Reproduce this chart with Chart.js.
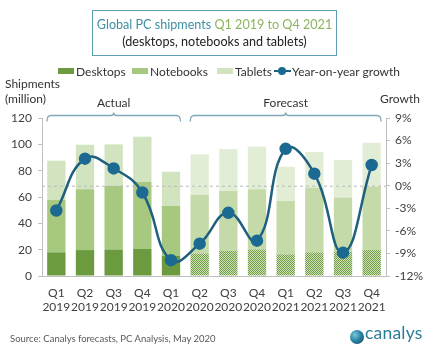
<!DOCTYPE html>
<html>
<head>
<meta charset="utf-8">
<script src="https://cdn.jsdelivr.net/npm/chart.js@4.4.1/dist/chart.umd.min.js"></script>
<style>
  html, body { margin:0; padding:0; background:#fff; }
  #wrap { position:relative; width:438px; height:355px; font-family: Lato, "Open Sans", sans-serif; color:#333; }
  canvas { position:absolute; left:0; top:0; }
  .abs { position:absolute; white-space:nowrap; }
  #titlebox { left:92px; top:10px; width:245px; border:1px solid #5aa1b5; text-align:center; font-size:12.6px; line-height:17px; padding-top:5px; box-sizing:border-box; height:46px; }
  .t1 { color:#3d8fa3; }
  .t2 { color:#8db35e; }
  .leg { font-size:12px; color:#333; top:64px; }
  .key { position:absolute; width:16px; height:6px; top:68px; }
  .axt { font-size:12px; color:#333; }
  #source { left:10px; top:333px; font-size:9.5px; color:#595959; }
  #logo { left:365px; top:322px; font-size:17.5px; color:#2a7d99; letter-spacing:0.2px; }
  #globe { position:absolute; left:350px; top:330px; width:14px; height:14px; border-radius:50%;
           background: radial-gradient(circle at 35% 35%, #7cc7d8 0%, #2a86a8 45%, #1d5e7e 75%, #4f9a3c 100%); }
</style>
</head>
<body>
<div id="wrap">
  <canvas id="c" width="438" height="355"></canvas>
  <div id="titlebox" class="abs"><span class="t1">Global PC shipments </span><span class="t2">Q1 2019 to Q4 2021</span><br><span style="color:#222">(desktops, notebooks and tablets)</span></div>

  <div class="key" style="left:58px;background:#6b9b3e"></div><div class="abs leg" style="left:76px">Desktops</div>
  <div class="key" style="left:132px;background:#a7c97f"></div><div class="abs leg" style="left:150px">Notebooks</div>
  <div class="key" style="left:217px;background:#d2e4bf"></div><div class="abs leg" style="left:235px">Tablets</div>
  <div class="abs" style="left:274px;top:70px;width:17px;height:2px;background:#1f5f7f"></div>
  <div class="abs" style="left:278px;top:67px;width:8px;height:8px;border-radius:50%;background:#1c6a91"></div>
  <div class="abs leg" style="left:292px">Year-on-year growth</div>

  <div class="abs axt" style="left:5px;top:76px">Shipments</div>
  <div class="abs axt" style="left:5px;top:91px">(million)</div>
  <div class="abs axt" style="left:380px;top:91px">Growth</div>

  <div id="source" class="abs">Source: Canalys forecasts, PC Analysis, May 2020</div>
  <div id="globe"></div>
  <div id="logo" class="abs">canalys</div>
</div>
<script>
// ---- data ----
const categories = [["Q1","2019"],["Q2","2019"],["Q3","2019"],["Q4","2019"],["Q1","2020"],["Q2","2020"],["Q3","2020"],["Q4","2020"],["Q1","2021"],["Q2","2021"],["Q3","2021"],["Q4","2021"]];
const desktops  = [18.0, 19.7, 20.0, 20.5, 15.4, 17.2, 19.2, 20.2, 16.5, 18.0, 18.5, 19.7];
const notebooks = [39.7, 46.1, 48.3, 51.1, 37.8, 44.3, 45.6, 45.6, 40.5, 49.0, 41.2, 48.1];
const tablets   = [29.9, 33.9, 31.7, 34.2, 26.0, 30.9, 31.6, 32.4, 26.0, 27.2, 28.4, 33.4];
const growth    = [-3.3, 3.6, 2.3, -0.9, -9.9, -7.7, -3.6, -7.3, 4.9, 1.6, -8.9, 2.75];
const forecastFlags = [false,false,false,false,false,true,true,true,true,true,true,true];
const periodLabels = ["Actual", "Forecast"];
const leftTicks = {min:0, max:120, step:20};
const rightTicks = {min:-12, max:9, step:3};

// ---- styles ----
const pc = document.createElement('canvas'); pc.width = 2; pc.height = 2;
const px = pc.getContext('2d');
px.fillStyle = '#cfe2b8'; px.fillRect(0,0,2,2);
px.fillStyle = '#6f9c45'; px.fillRect(0,0,1,1); px.fillRect(1,1,1,1);
const ctx0 = document.getElementById('c').getContext('2d');
const dotPattern = ctx0.createPattern(pc, 'repeat');

const deskColors = forecastFlags.map(f => f ? dotPattern : '#6b9b3e');
const noteColors = forecastFlags.map(f => f ? '#c4daa8' : '#a7c97f');
const tabColors  = forecastFlags.map(f => f ? '#e2edd5' : '#d2e4bf');

const FONT = 'Lato, "Open Sans", sans-serif';
const TXT = '#404040';

const overlay = {
  id: 'overlay',
  afterDatasetDraw(chart, args) {
    if (args.index !== 0) return;
    const y = chart.scales.y2.getPixelForValue(0);
    const ca = chart.chartArea;
    const c = chart.ctx;
    c.save();
    c.strokeStyle = '#b8b8b8'; c.lineWidth = 1; c.setLineDash([3,3]);
    c.beginPath(); c.moveTo(ca.left, y + 0.5); c.lineTo(ca.right, y + 0.5); c.stroke();
    c.restore();
  },
  afterDraw(chart) {
    const c = chart.ctx, xs = chart.scales.x;
    const half = xs.width / categories.length * 0.33;
    const firstF = forecastFlags.indexOf(true);
    const groups = [[0, firstF - 1], [firstF, categories.length - 1]];
    c.save();
    c.strokeStyle = '#7fa9b8'; c.lineWidth = 1.3;
    groups.forEach((g, i) => {
      const x0 = xs.getPixelForValue(g[0]) - half;
      const x1 = xs.getPixelForValue(g[1]) + half;
      const xm = (x0 + x1) / 2;
      const yb = 115.5, r = 4;
      c.beginPath();
      c.moveTo(x0, yb + 6);
      c.quadraticCurveTo(x0, yb, x0 + r, yb);
      c.lineTo(xm - 3, yb);
      c.quadraticCurveTo(xm, yb, xm, yb - 3);
      c.quadraticCurveTo(xm, yb, xm + 3, yb);
      c.lineTo(x1 - r, yb);
      c.quadraticCurveTo(x1, yb, x1, yb + 6);
      c.stroke();
      c.fillStyle = '#333'; c.font = '12px ' + FONT; c.textAlign = 'center'; c.textBaseline = 'middle';
      c.fillText(periodLabels[i], xm, 103);
    });
    c.restore();
  }
};

new Chart(ctx0, {
  data: {
    labels: categories,
    datasets: [
      { type:'bar', label:'Desktops', data: desktops, backgroundColor: deskColors, stack:'s', yAxisID:'y', order:1, categoryPercentage:1, barPercentage:0.64 },
      { type:'bar', label:'Notebooks', data: notebooks, backgroundColor: noteColors, stack:'s', yAxisID:'y', order:1, categoryPercentage:1, barPercentage:0.64 },
      { type:'bar', label:'Tablets', data: tablets, backgroundColor: tabColors, stack:'s', yAxisID:'y', order:1, categoryPercentage:1, barPercentage:0.64 },
      { type:'line', label:'Year-on-year growth', data: growth, yAxisID:'y2', order:0, borderColor:'#1f5f7f', borderWidth:2.5,
        pointRadius:5, pointBackgroundColor:'#1c6a91', pointBorderColor:'#1c6a91', tension:0.45, fill:false }
    ]
  },
  options: {
    responsive:false, animation:false,
    layout: { padding: { top:118, left:0, right:0, bottom:0 } },
    plugins: { legend:{display:false}, tooltip:{enabled:false}, title:{display:false} },
    scales: {
      x: {
        stacked:true,
        grid:{ display:false, drawTicks:false },
        border:{ display:true, color:'#bfbfbf' },
        ticks:{ font:{ family:FONT, size:12 }, color:TXT, padding:10, maxRotation:0, autoSkip:false },
        afterFit(s){ s.height = 79; }
      },
      y: {
        stacked:true, position:'left', min:leftTicks.min, max:leftTicks.max,
        ticks:{ stepSize:leftTicks.step, font:{ family:FONT, size:12 }, color:TXT, padding:6 },
        grid:{ drawOnChartArea:false, drawTicks:true, tickLength:4, color:'#bfbfbf' },
        border:{ color:'#bfbfbf' },
        afterFit(s){ s.width = 42; }
      },
      y2: {
        position:'right', min:rightTicks.min, max:rightTicks.max,
        ticks:{ stepSize:rightTicks.step, font:{ family:FONT, size:12 }, color:TXT, padding:5, callback:v => v + '%' },
        grid:{ drawOnChartArea:false, drawTicks:true, tickLength:4, color:'#bfbfbf' },
        border:{ color:'#bfbfbf' },
        afterFit(s){ s.width = 52; }
      }
    }
  },
  plugins:[overlay]
});
</script>
</body>
</html>
